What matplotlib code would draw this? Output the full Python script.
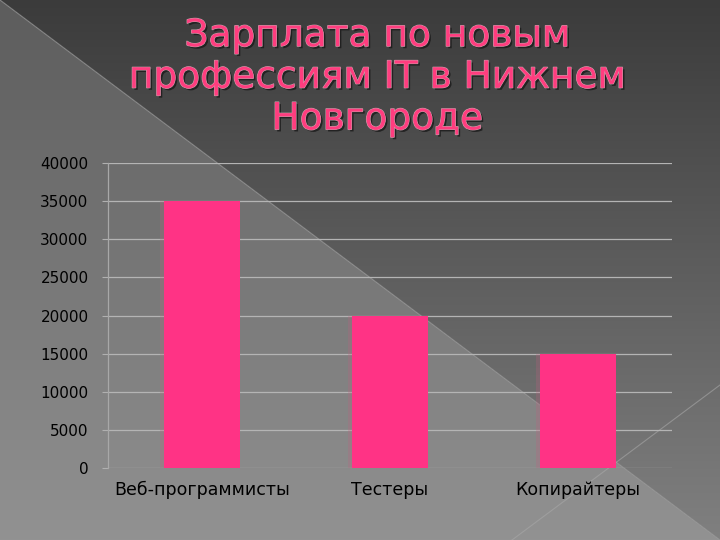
import numpy as np
import matplotlib
matplotlib.use("Agg")
from matplotlib import pyplot as plt
import matplotlib.patheffects as pe

categories = ["Веб-программисты", "Тестеры", "Копирайтеры"]
salaries = [35000, 20000, 15000]
title = "Зарплата по новым\nпрофессиям IT в Нижнем\nНовгороде"

plt.rcParams['font.family'] = ['DejaVu Sans']

fig = plt.figure(figsize=(7.2, 5.4), dpi=100)

#===== background: two gray gradients split by the corner-to-corner diagonal
bg = fig.add_axes([0, 0, 1, 1], zorder=-10)
h, w = 540, 720
yy, xx = np.mgrid[0:h, 0:w]
t = yy / (h - 1)
upper = 0x3b + (0x80 - 0x3b) * t
lower = 0x5c + (0x92 - 0x5c) * t
img = np.where(yy < xx * 0.75, upper, lower) / 255.0
bg.imshow(np.dstack([img, img, img]), extent=(0, w, h, 0), aspect='auto')
bg.plot([0, 720], [0, 540], color='#9a9a9a', lw=0.8, alpha=0.7)
bg.plot([720, 512], [385, 540], color='#a8a8a8', lw=0.8, alpha=0.6)
bg.set_xlim(0, w)
bg.set_ylim(h, 0)
bg.axis('off')

#===== chart
ax = fig.add_axes([0.15, 0.1333, 0.7833, 0.5647])
ax.patch.set_alpha(0)
x = np.arange(len(categories))
ax.bar(x - 0.012, salaries, width=0.42, color='#c06080', alpha=0.25, zorder=2)
ax.bar(x, salaries, width=0.40, color='#ff3385', zorder=3)
ax.set_xlim(-0.5, 2.5)
ax.set_ylim(0, 40000)
ax.set_yticks(range(0, 40001, 5000))
ax.set_xticks(x)
ax.set_xticklabels(categories, fontsize=12.5, color='black')
ax.tick_params(axis='y', labelsize=11, colors='black', length=4, color='#b0b0b0', pad=10)
ax.tick_params(axis='x', length=0, pad=9)
ax.grid(axis='y', color='#b4b4b4', linewidth=0.9, zorder=1)
for s in ['top', 'right', 'bottom']:
    ax.spines[s].set_visible(False)
ax.spines['left'].set_color('#a8a8a8')
ax.spines['left'].set_linewidth(0.9)

#===== title
fig.text(0.524, 0.856, title, ha='center', va='center', fontsize=27,
         color='#ff3d7f', linespacing=1.2,
         path_effects=[pe.withSimplePatchShadow(offset=(1.5, -1.5), shadow_rgbFace='#1a1a1a', alpha=0.8),
                       pe.Stroke(linewidth=0.8, foreground='#c8a0aa'), pe.Normal()])

plt.savefig("out.png", dpi=100)
